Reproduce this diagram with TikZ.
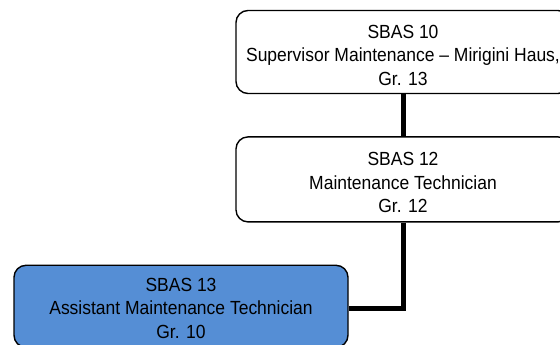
\documentclass[tikz,border=0pt]{standalone}
\usepackage{fontspec}
\setmainfont{Liberation Sans}[FakeStretch=0.92]
\usepackage{tikz}
\usetikzlibrary{positioning}
\definecolor{postblue}{RGB}{85,142,213}

\begin{document}
\begin{tikzpicture}[x=1pt,y=1pt]
	
	\tikzset{role/.style={
			draw, line width=1.4pt, rounded corners=12pt,
			minimum width=334pt, minimum height=#1,
			align=center, inner sep=0pt, text height=67pt,
			font=\fontsize{19pt}{23.5pt}\selectfont
		},
		role/.default=84pt,
		link/.style={line width=5pt}
	}
	
	\useasboundingbox (0,0) rectangle (560,345);
	\clip (0,0) rectangle (560,345);
	
	\node[role=83pt] (sup) at (403,293) {SBAS 10\\Supervisor Maintenance -- Mirigini Haus,\hspace*{10pt}\\Gr. 13};
	\node[role=85pt, below=42pt of sup] (tech) {SBAS 12\\Maintenance Technician\\Gr. 12};
	\node[role=82pt, fill=postblue, text height=64pt, below=42pt of tech, xshift=-222pt] (asst) {SBAS 13\\Assistant Maintenance Technician\\Gr. 10};
	
	\draw[link] (sup) -- (tech);
	\draw[link] (tech.south) |- ([yshift=-2pt]asst.east);
	
\end{tikzpicture}
\end{document}
